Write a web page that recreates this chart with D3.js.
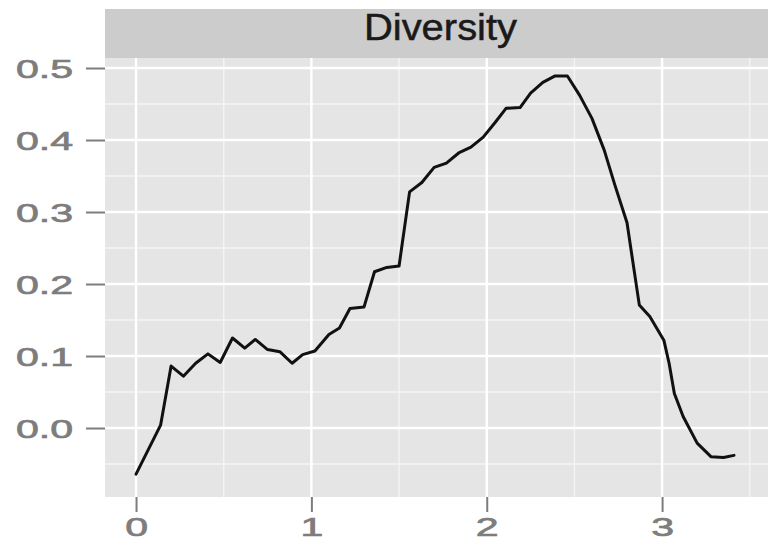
<!DOCTYPE html>
<html>
<head>
<meta charset="utf-8">
<script src="https://cdn.jsdelivr.net/npm/d3@7"></script>
<style>
  html, body { margin: 0; padding: 0; background: #ffffff; }
  svg { display: block; }
</style>
</head>
<body>
<svg id="chart" width="775" height="541"></svg>
<script>
// Diversity curve
const xValues = [0, 0.14, 0.2, 0.27, 0.34, 0.41, 0.48, 0.55, 0.62, 0.68, 0.75, 0.82, 0.89, 0.95,
  1.02, 1.1, 1.16, 1.22, 1.3, 1.36, 1.43, 1.5, 1.56, 1.63, 1.7, 1.77, 1.84, 1.91, 1.98,
  2.05, 2.11, 2.19, 2.25, 2.32, 2.39, 2.46, 2.53, 2.6, 2.67, 2.73, 2.8, 2.87, 2.93,
  3.01, 3.04, 3.07, 3.12, 3.2, 3.28, 3.35, 3.41];
const yValues = [-0.064, 0.004, 0.086, 0.072, 0.090, 0.103, 0.091, 0.125, 0.111, 0.123, 0.109, 0.106, 0.090, 0.102,
  0.107, 0.130, 0.139, 0.166, 0.168, 0.217, 0.223, 0.225, 0.328, 0.341, 0.362, 0.368, 0.382, 0.390, 0.404,
  0.425, 0.444, 0.445, 0.465, 0.480, 0.489, 0.489, 0.462, 0.430, 0.386, 0.338, 0.285, 0.171, 0.155,
  0.122, 0.090, 0.048, 0.016, -0.021, -0.040, -0.041, -0.038];

const xTicks = [0, 1, 2, 3];
const xMinor = [0.5, 1.5, 2.5, 3.5];
const yTicks = [0.0, 0.1, 0.2, 0.3, 0.4, 0.5];
const yMinor = [-0.05, 0.05, 0.15, 0.25, 0.35, 0.45];
const stripLabel = "Diversity";

const panel = { left: 105, right: 768, top: 58, bottom: 497 };
const strip = { top: 9, bottom: 58 };

const x = d3.scaleLinear().domain([-0.177, 3.604]).range([panel.left, panel.right]);
const y = d3.scaleLinear().domain([-0.0958, 0.5139]).range([panel.bottom, panel.top]);

const svg = d3.select("#chart");

// strip
svg.append("rect")
  .attr("x", panel.left).attr("y", strip.top)
  .attr("width", panel.right - panel.left).attr("height", strip.bottom - strip.top)
  .attr("fill", "#cccccc");
const stripX = (panel.left + panel.right) / 2 + 4;
svg.append("text")
  .attr("transform", `translate(${stripX},40) scale(1.08,1)`)
  .attr("text-anchor", "middle")
  .attr("font-family", "Liberation Sans, Arial, sans-serif")
  .attr("font-size", 37)
  .attr("fill", "#1a1a1a")
  .attr("stroke", "#1a1a1a")
  .attr("stroke-width", 0.5)
  .text(stripLabel);

// panel background
svg.append("rect")
  .attr("x", panel.left).attr("y", panel.top)
  .attr("width", panel.right - panel.left).attr("height", panel.bottom - panel.top)
  .attr("fill", "#e5e5e5");

const grid = svg.append("g");
// minor grid
grid.selectAll("line.ymin").data(yMinor).join("line")
  .attr("x1", panel.left).attr("x2", panel.right)
  .attr("y1", d => y(d)).attr("y2", d => y(d))
  .attr("stroke", "#f4f4f4").attr("stroke-width", 1.4);
grid.selectAll("line.xmin").data(xMinor).join("line")
  .attr("y1", panel.top).attr("y2", panel.bottom)
  .attr("x1", d => x(d)).attr("x2", d => x(d))
  .attr("stroke", "#f4f4f4").attr("stroke-width", 1.4);
// major grid
grid.selectAll("line.ymaj").data(yTicks).join("line")
  .attr("x1", panel.left).attr("x2", panel.right)
  .attr("y1", d => y(d)).attr("y2", d => y(d))
  .attr("stroke", "#ffffff").attr("stroke-width", 2.4);
grid.selectAll("line.xmaj").data(xTicks).join("line")
  .attr("y1", panel.top).attr("y2", panel.bottom)
  .attr("x1", d => x(d)).attr("x2", d => x(d))
  .attr("stroke", "#ffffff").attr("stroke-width", 2.4);

// data line
const pts = xValues.map((v, i) => [v, yValues[i]]);
svg.append("path")
  .datum(pts)
  .attr("d", d3.line().x(d => x(d[0])).y(d => y(d[1])))
  .attr("fill", "none")
  .attr("stroke", "#111111")
  .attr("stroke-width", 3)
  .attr("stroke-linejoin", "round")
  .attr("stroke-linecap", "round");

// axes
const labelColor = "#7d7d7d";
const stretch = 1.58;

const yAxis = svg.append("g")
  .attr("transform", `translate(${panel.left},0)`)
  .call(d3.axisLeft(y).tickValues(yTicks).tickFormat(d3.format(".1f")).tickSize(19).tickPadding(13));
yAxis.select(".domain").remove();
yAxis.selectAll(".tick line").attr("stroke", labelColor).attr("stroke-width", 2);
yAxis.selectAll(".tick text")
  .attr("x", -32 / stretch)
  .attr("dy", "0.36em")
  .attr("transform", `scale(${stretch},1)`)
  .attr("font-family", "Liberation Sans, Arial, sans-serif")
  .attr("font-size", 26)
  .attr("fill", labelColor)
  .attr("stroke", labelColor)
  .attr("stroke-width", 0.7);

const xAxis = svg.append("g")
  .attr("transform", `translate(0,${panel.bottom})`)
  .call(d3.axisBottom(x).tickValues(xTicks).tickFormat(d3.format("d")).tickSize(15).tickPadding(6));
xAxis.select(".domain").remove();
xAxis.selectAll(".tick line").attr("stroke", labelColor).attr("stroke-width", 2);
xAxis.selectAll(".tick text")
  .attr("transform", `scale(${stretch},1)`)
  .attr("font-family", "Liberation Sans, Arial, sans-serif")
  .attr("font-size", 26)
  .attr("fill", labelColor)
  .attr("stroke", labelColor)
  .attr("stroke-width", 0.7);
</script>
</body>
</html>
